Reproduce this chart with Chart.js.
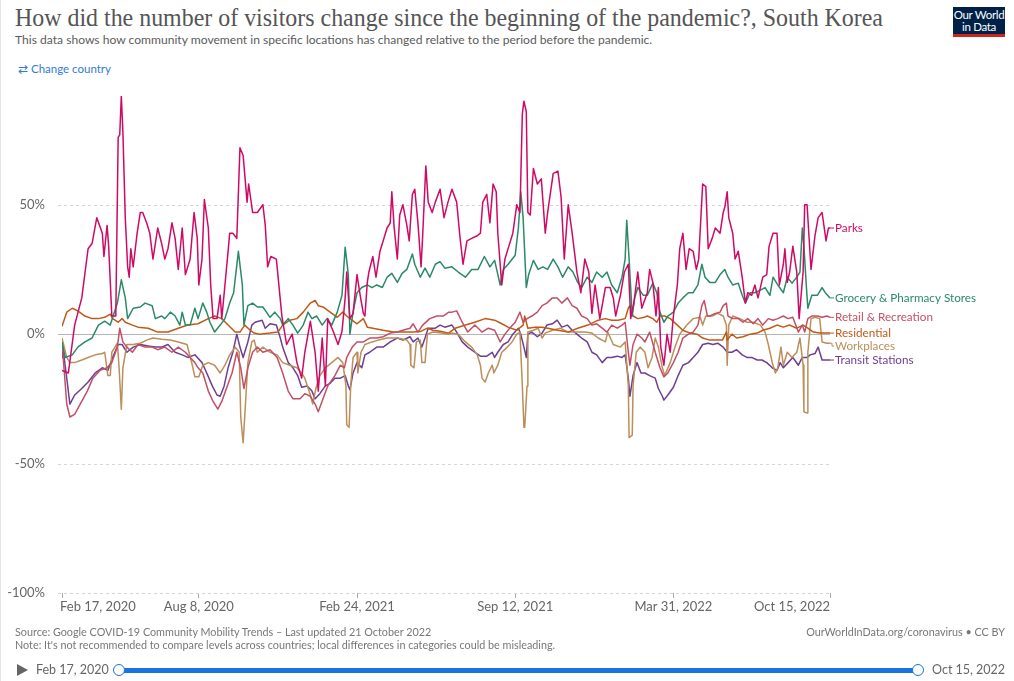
<!DOCTYPE html>
<html>
<head>
<meta charset="utf-8">
<script src="https://cdn.jsdelivr.net/npm/chart.js@4.4.1/dist/chart.umd.min.js"></script>
<style>
  body { margin: 0; width: 1014px; height: 681px; overflow: hidden; background: #fff; font-family: Lato, "Open Sans", sans-serif; position: relative; }
  #edge { position: absolute; left: 0; top: 0; width: 1px; height: 681px; background: #e4e4e4; }
  #title { position: absolute; left: 15px; top: 3px; font-family: "Liberation Serif", serif; font-size: 26px; color: #555; white-space: nowrap; transform-origin: 0 0; }
  #subtitle { position: absolute; left: 15px; top: 32px; font-size: 12.1px; color: #5b5b5b; white-space: nowrap; }
  #change { position: absolute; left: 18px; top: 62px; font-size: 11.5px; color: #2f7bd9; white-space: nowrap; }
  #logo { position: absolute; left: 953px; top: 7px; width: 52px; height: 25px; background: #002147; border-bottom: 3px solid #ce261e; color: #fff; font-size: 11.5px; line-height: 12px; text-align: center; padding-top: 2px; box-sizing: content-box; letter-spacing: -0.3px; }
  #chart { position: absolute; left: 0; top: 0; }
  .foot { position: absolute; font-size: 10.8px; color: #777; white-space: nowrap; }
  #play { position: absolute; left: 17px; top: 664px; width: 0; height: 0; border-top: 6px solid transparent; border-bottom: 6px solid transparent; border-left: 11px solid #666; }
  .tl { position: absolute; top: 662px; font-size: 12.5px; color: #666; white-space: nowrap; }
  #bar { position: absolute; left: 120px; top: 668px; width: 799px; height: 5px; background: #1a73e0; }
  .knob { position: absolute; top: 664px; width: 10px; height: 10px; border: 1.5px solid #1a73e0; border-radius: 50%; background: #fff; }
</style>
</head>
<body>
<div id="edge"></div>
<div id="title">How did the number of visitors change since the beginning of the pandemic?, South Korea</div>
<div id="subtitle">This data shows how community movement in specific locations has changed relative to the period before the pandemic.</div>
<div id="change">&#8644; Change country</div>
<div id="logo">Our World<br>in Data</div>
<canvas id="chart" width="1014" height="681"></canvas>
<div class="foot" style="left:15px; top:625px;">Source: Google COVID-19 Community Mobility Trends – Last updated 21 October 2022</div>
<div class="foot" style="left:15px; top:638px;">Note: It's not recommended to compare levels across countries; local differences in categories could be misleading.</div>
<div class="foot" style="right:9px; top:625px;">OurWorldInData.org/coronavirus • CC BY</div>
<div id="play"></div>
<div class="tl" style="left:36px;">Feb 17, 2020</div>
<div id="bar"></div>
<div class="knob" style="left:113px;"></div>
<div class="knob" style="left:912px;"></div>
<div class="tl" style="left:932px;">Oct 15, 2022</div>

<script>
// x values are days since Feb 17, 2020 (Oct 15, 2022 = day 971)
const tickDays = [0, 173, 373, 573, 773, 971];
const tickLabels = ['Feb 17, 2020', 'Aug 8, 2020', 'Feb 24, 2021', 'Sep 12, 2021', 'Mar 31, 2022', 'Oct 15, 2022'];
const yTicks = [-100, -50, 0, 50];

const seriesNames = ['Parks', 'Grocery & Pharmacy Stores', 'Retail & Recreation', 'Residential', 'Workplaces', 'Transit Stations'];
const seriesColors = ['#cf0a66', '#2a8a66', '#c15065', '#c05917', '#bc8e5a', '#6d3e91'];

const parks = [[0,-14],[8,-15],[16,3.5],[25,14],[33,33],[38,35],[44,45],[51,39],[53,30],[57,42],[59,34],[63,7],[68,7],[71,76],[73,77],[75,92],[77,78],[80,45],[83,26],[85,22],[87,33],[90,26],[95,39],[99,47],[102,47],[107,43],[111,39],[115,29],[121,41],[126,35],[130,29],[134,33],[139,43],[143,37],[147,25],[152,41],[156,23],[162,29],[167,47],[171,37],[173,19],[177,29],[180,52],[185,41],[188,19],[191,6],[196,6],[200,15],[202,6],[206,19],[210,32],[212,39],[216,39],[221,37],[225,72],[229,69],[234,51],[236,58],[241,47],[247,47],[254,50],[257,42],[260,26],[264,30],[271,29],[278,7],[284,-4],[291,0],[297,-11],[303,-17],[307,-7],[314,5],[320,-7],[324,-22],[329,-1.5],[333,-20],[336,6],[343,1],[349,-4],[354,1],[358,14],[360,24],[364,6],[368,8],[373,23],[377,15],[381,8],[383,7],[386,20],[388,24],[393,30],[397,22],[402,32],[406,36],[411,41],[415,43],[417,55],[420,41],[424,29],[427,46],[431,50],[436,42],[439,36],[443,54],[446,56],[450,43],[454,26],[456,38],[460,65],[463,51],[468,47],[472,51],[478,56],[483,45],[488,51],[493,56],[499,51],[503,38],[507,27],[512,36],[518,37],[525,38],[529,39],[532,51],[537,54],[541,43],[545,58],[549,55],[551,39],[556,19],[560,29],[565,34],[570,39],[575,50],[579,47],[582,85],[584,90],[587,86],[589,47],[592,46],[596,64],[601,58],[606,60],[611,39],[614,47],[621,62],[627,63],[631,53],[635,29],[640,50],[645,39],[651,24],[656,16],[661,29],[666,24],[670,8],[674,19],[680,6],[687,18],[693,18],[697,14],[700,7],[706,15],[711,24],[716,27],[719,6],[723,12],[728,24],[733,10],[740,16],[743,25],[747,20],[751,7],[754,18],[757,-5],[761,-12],[765,0],[769,-7],[773,7],[778,19],[781,33],[785,39],[789,25],[793,33],[798,32],[802,25],[805,29],[810,58],[814,57],[817,33],[822,37],[826,41],[832,39],[836,47],[838,49],[841,55],[843,45],[848,39],[851,29],[855,32],[860,22],[864,12],[867,16],[872,15],[876,19],[880,14],[886,22],[891,23],[894,34],[899,39],[904,39],[907,19],[912,27],[914,33],[917,20],[920,24],[924,34],[929,24],[932,6],[937,24],[939,50],[942,50],[947,25],[952,38],[956,45],[961,47],[966,36],[969,41],[971,41]];

const grocery = [[0,-3],[4,-9],[13,-8],[20,-5],[29,-3],[38,-1.5],[46,3.5],[54,5],[61,3.5],[70,12],[75,21],[80,14],[83,6],[90,10],[99,10.5],[105,12],[114,11],[118,6],[126,7],[130,6],[137,8.5],[143,7],[149,3.5],[152,8.5],[156,3.5],[162,3.5],[168,10],[172,6],[178,12],[183,8.5],[187,4.6],[193,0.8],[200,3.5],[206,6],[212,12],[217,16],[223,32],[228,19],[230,3.5],[235,11],[241,12],[247,10.5],[254,10.5],[263,6.5],[269,8.5],[276,6],[279,3.5],[286,6],[292,3.5],[298,0.4],[305,3.5],[311,8.5],[316,6],[322,7],[329,3.5],[335,6],[341,3.5],[348,8.5],[354,15],[358,33.6],[362,23],[364,0],[368,8.5],[373,16],[379,18],[386,19],[392,18],[398,19],[405,18],[411,22],[417,23.5],[424,20],[430,23.5],[436,25],[443,31],[446,27],[453,22],[459,25.5],[465,22],[472,27],[478,28],[484,25.5],[493,26],[501,24],[510,22],[518,25],[526,25],[534,30],[541,26],[547,28.5],[554,19],[558,25],[564,27],[573,30.5],[577,41],[580,55],[583,45],[587,18],[590,23],[596,28.5],[602,25],[608,26],[614,25],[621,29],[627,26],[633,22],[640,26],[646,24],[652,20],[657,18],[664,22],[670,20],[676,24],[683,22],[689,24],[695,19],[702,16],[708,22],[712,29],[714,44],[717,29],[721,7],[724,14],[728,18],[735,15],[740,15],[747,19.7],[752,16],[756,8.5],[761,4.6],[766,7],[773,8.5],[779,12],[785,14],[792,16],[798,16],[804,19],[809,27],[813,22],[819,20],[826,20],[832,23],[838,25],[842,22],[848,19],[855,19.7],[860,15],[864,12],[870,16],[876,16],[883,17],[889,18],[895,15],[899,22],[905,19],[912,16],[917,22],[923,19.7],[929,22],[933,24],[936,41],[938,34],[941,19],[943,10],[948,15],[955,15],[961,18],[965,16],[971,14]];

const retail = [[0,-5],[1,-7],[6,-27],[10,-32],[16,-31],[23,-27],[32,-22],[39,-17],[48,-14],[57,-13],[63,-11],[70,-5],[73,2.3],[77,-3],[82,-5],[89,-7],[96,-4],[105,-5],[114,-5],[121,-6],[130,-5],[139,-7],[147,-5],[156,-7],[162,-9],[168,-11],[172,-13],[178,-15],[185,-22],[191,-26],[197,-29],[202,-26],[209,-20],[215,-15],[221,-7],[226,-13],[230,-21],[235,-13],[241,-7],[247,-5],[254,-7],[263,-6],[272,-9],[279,-15],[286,-22],[292,-25],[301,-25],[307,-23],[314,-24],[320,-27],[324,-30],[330,-25],[336,-20],[345,-16],[352,-12],[357,-13],[360,-9],[367,-5],[373,-3],[381,-3],[389,-1.5],[398,-1.5],[406,-1],[415,0.4],[424,0.8],[431,1.5],[440,2.3],[444,4],[450,0.8],[456,3.5],[465,6],[474,7],[482,7],[489,8.5],[493,8.5],[499,9],[506,4.6],[513,0.8],[522,3.5],[531,0.8],[539,2.3],[547,1.5],[554,-3],[560,0],[566,2.3],[573,4.6],[579,8.5],[583,4.6],[588,6],[594,7],[601,8.5],[607,11],[613,12],[620,14],[626,14],[632,12],[639,14],[645,11],[651,10],[657,7],[664,6],[670,3.5],[676,4],[683,2.3],[689,0.8],[695,3.5],[702,2.3],[708,3.5],[712,4.6],[716,-7],[718,-12],[722,-4],[727,0],[733,-1.5],[737,-3],[743,0.8],[750,-7],[756,-13],[761,-16.5],[766,-15],[773,-11],[779,-7],[785,-1.5],[792,0],[798,0.8],[804,3.5],[809,11],[812,13],[816,7],[819,7],[826,8],[832,8.5],[836,11],[840,12],[842,7],[848,6],[855,6],[861,4.6],[867,6],[874,4],[880,6],[886,3.5],[893,6],[899,5.4],[905,6],[912,7],[918,6],[924,6.5],[931,0.8],[936,3.5],[939,0.8],[943,6],[948,7],[955,7],[961,6.5],[967,7],[971,6.5]];

const residential = [[0,3],[6,8.5],[13,10],[20,9],[29,7],[38,6],[46,6],[54,6.5],[61,7.7],[64,6],[71,4.6],[76,6],[80,4.6],[89,3.5],[96,2.7],[109,2.3],[121,0.8],[134,0.8],[147,2.3],[159,3.5],[172,4],[185,6],[193,7],[202,6],[210,3.5],[219,0.8],[225,0.8],[231,3.5],[238,1.5],[243,0.4],[250,0],[263,0.4],[273,0.8],[279,3.5],[288,5.4],[297,6],[305,8.5],[314,12],[320,13],[324,11],[330,10.5],[339,8.5],[348,6.5],[355,8.5],[360,7],[364,6],[373,4],[381,6],[386,2.7],[393,2.3],[406,1.5],[419,0.8],[431,0.8],[444,0.8],[453,1],[462,2.3],[469,1.5],[480,1],[489,0.4],[497,2.3],[510,3.5],[522,4.6],[535,6],[547,5.4],[556,4],[564,2.7],[575,1.5],[583,3.5],[585,7],[589,2.3],[598,2.7],[607,2.7],[614,2.3],[627,1.5],[640,0.8],[652,2.3],[665,3.5],[678,5.4],[687,6],[695,5.4],[703,5.4],[712,6],[716,10],[718,11],[722,7],[728,6],[736,6.5],[740,7],[747,6],[752,4.6],[756,7],[762,7],[769,6],[778,3.5],[785,1.5],[794,0.4],[803,0],[810,-1.5],[819,-2.3],[828,-2.3],[835,-2.3],[840,0.8],[841,-2.3],[847,0],[853,-1.5],[861,-1],[870,0],[879,0.4],[886,1.5],[895,2.3],[904,3.5],[912,2.7],[920,3.5],[929,2.3],[937,3.5],[943,2.3],[950,0.8],[958,0.4],[971,0.4]];

const workplaces = [[0,-1.5],[1,-1.5],[6,-9],[10,-11],[16,-11],[25,-10],[33,-9],[42,-8],[51,-7.5],[54,-7],[58,-16],[61,-16],[63,-7],[70,-3.5],[72,-12],[75,-29],[77,-13],[82,-4],[90,-4],[99,-3.5],[107,-2.3],[115,-1.5],[126,-2],[137,-2.3],[147,-3],[158,-4],[164,-11],[168,-16.5],[173,-16.5],[178,-12],[185,-11],[193,-12],[200,-15],[206,-12],[212,-8],[219,-5],[224,-7],[226,-32],[229,-42],[231,-32],[235,-11],[240,-3],[243,-2.3],[247,-7],[254,-5],[263,-7],[272,-8],[279,-11],[288,-12],[297,-13],[303,-15],[307,-17],[314,-23.5],[317,-27],[321,-21],[326,-16],[333,-13],[341,-11],[349,-9],[355,-11],[359,-20],[360,-35],[363,-36],[365,-20],[368,-9],[373,-7],[374,-15],[378,-7],[383,-4],[392,-3],[400,-2.3],[411,-1.5],[424,-1.5],[436,-2.3],[440,-4],[441,-12],[445,-13],[448,-3],[453,-2.3],[455,-11],[459,-11],[462,0],[469,0.8],[480,0.4],[489,0],[493,0.4],[501,0],[510,-3],[518,-5],[525,-8],[529,-12],[531,-17],[535,-18.5],[539,-15],[544,-12],[546,-15],[551,-12],[556,-7],[563,-5],[569,-3],[575,0],[579,0.8],[582,-20],[584,-36],[585,-36],[588,-20],[589,0.8],[596,1.5],[602,2.3],[607,-1.5],[611,0.4],[620,1.5],[630,2.3],[640,0.8],[651,0.8],[661,0.8],[670,0.4],[678,-1.5],[687,-3],[690,0.8],[697,-4],[706,-5],[712,-3],[716,-20],[717,-40],[721,-39],[722,-20],[726,-7],[731,-5],[737,-7],[741,-13],[746,-9],[750,-1.5],[754,-5],[759,-13],[762,-16],[769,-11],[775,-5],[781,0],[790,3.5],[798,6],[807,6.5],[810,3.5],[814,7],[822,7],[829,8],[836,7],[840,3.5],[841,-12],[843,3.5],[848,7],[857,6],[866,4.6],[874,4.6],[883,3.5],[889,0.8],[893,-4],[898,-11],[902,-15],[905,-13],[909,-5],[912,-12],[917,-7],[923,-9],[929,-7],[933,-1.5],[937,-12],[938,-30],[942,-30.5],[943,-7],[947,6],[952,6.5],[958,6],[961,-3],[967,-3.5],[971,-3.5]];

const transit = [[0,-9],[1,-5],[6,-17],[10,-27],[16,-23.5],[25,-21],[33,-18.5],[42,-15],[51,-13],[58,-14],[64,-9],[71,-4],[76,-4],[82,-7],[90,-5],[99,-4],[109,-4.6],[118,-5],[126,-5],[134,-4],[143,-7],[152,-8],[159,-9],[168,-8],[177,-11],[183,-15],[190,-20],[196,-23.5],[200,-24],[205,-20],[210,-13],[216,-7],[221,0],[225,-5],[229,-9],[235,-3],[240,3.5],[244,4.6],[253,5.4],[257,2.3],[263,4],[271,3.5],[276,-1.5],[279,-5],[286,-11],[292,-13],[298,-16],[303,-20.5],[310,-20],[316,-22],[320,-25],[326,-23],[333,-20],[339,-19],[345,-17],[352,-17],[358,-16],[362,-20],[364,-21.5],[368,-15],[373,-11],[379,-13],[383,-8],[389,-7],[398,-5],[406,-5],[415,-3],[424,-1.5],[431,-2.3],[440,-1],[444,-3],[450,-1.5],[455,-5],[459,-1.5],[463,2.3],[472,2.3],[478,3.5],[484,2.7],[493,3.5],[499,0.8],[506,-3],[513,-5],[522,-7],[529,-8.5],[537,-8.5],[544,-7],[547,-9],[551,-7],[558,-4],[564,-3],[570,0],[577,2.3],[580,0],[584,-5],[587,-9],[589,0],[594,0.8],[601,-1],[607,0.4],[613,3.5],[620,4],[626,5.4],[632,2.7],[639,3.5],[645,1.5],[651,0],[657,-1.5],[664,-3],[670,-7],[676,-8],[683,-11],[689,-9],[695,-9],[702,-8.5],[708,-9],[712,-8],[716,-17],[718,-24],[722,-16],[727,-11],[732,-15],[737,-15],[743,-16],[750,-17],[754,-21],[759,-24],[761,-25.5],[766,-23.5],[773,-20.5],[779,-16],[785,-12],[792,-11],[798,-9],[804,-7],[810,-4],[817,-3.5],[823,-4],[829,-3.5],[836,-5],[841,-7],[847,-7],[853,-6],[860,-8],[866,-9],[872,-9],[879,-10],[885,-10],[891,-11],[898,-13],[904,-14],[908,-11],[912,-13],[918,-11],[924,-9],[931,-12],[936,-9],[942,-9],[946,-8],[952,-7.5],[956,-5],[961,-10],[971,-10]];

const seriesData = [parks, grocery, retail, residential, workplaces, transit];
const yMax = Math.max(...seriesData.flat().map(p => p[1]));

// fit the serif title to the width it has in the original
const title = document.getElementById('title');
title.style.transform = 'scaleX(' + (868 / title.getBoundingClientRect().width) + ')';

// horizontal grid: dashed, solid at zero
const gridLines = {
    id: 'gridLines',
    beforeDatasetsDraw(chart) {
        const { ctx, scales: { x, y } } = chart;
        ctx.save();
        ctx.lineWidth = 1;
        yTicks.forEach(v => {
            const py = Math.round(y.getPixelForValue(v)) + 0.5;
            ctx.strokeStyle = v === 0 ? '#b5b5b5' : '#d5d5d5';
            ctx.setLineDash(v === 0 ? [] : [3, 3]);
            ctx.beginPath();
            ctx.moveTo(x.left - 4, py);
            ctx.lineTo(x.right, py);
            ctx.stroke();
        });
        ctx.restore();
    }
};

const endLabels = {
    id: 'endLabels',
    afterDatasetsDraw(chart) {
        const { ctx, scales: { x, y } } = chart;
        const items = chart.data.datasets.map(ds => {
            const last = ds.data[ds.data.length - 1];
            const py = y.getPixelForValue(last.y);
            return { label: ds.label, color: ds.borderColor, py, ly: py };
        }).sort((a, b) => a.py - b.py);
        for (let i = 1; i < items.length; i++) {
            items[i].ly = Math.max(items[i].ly, items[i - 1].ly + 13);
        }
        const x0 = x.right;
        ctx.save();
        ctx.font = '11.7px Lato';
        ctx.textBaseline = 'middle';
        ctx.lineWidth = 1;
        items.forEach(it => {
            ctx.strokeStyle = it.color;
            ctx.beginPath();
            ctx.moveTo(x0, it.py);
            ctx.lineTo(x0 + 2, it.py);
            ctx.lineTo(x0 + 2, it.ly);
            ctx.lineTo(x0 + 4, it.ly);
            ctx.stroke();
            ctx.fillStyle = it.color;
            ctx.fillText(it.label, x0 + 5, it.ly);
        });
        ctx.restore();
    }
};

const dateLabels = {
    id: 'dateLabels',
    afterDraw(chart) {
        const { ctx, scales: { x, y } } = chart;
        ctx.save();
        ctx.font = '13px Lato';
        ctx.fillStyle = '#666';
        ctx.textBaseline = 'middle';
        tickDays.forEach((d, i) => {
            const px = x.getPixelForValue(d);
            ctx.textAlign = i === 0 ? 'left' : (i === tickDays.length - 1 ? 'right' : 'center');
            ctx.fillText(tickLabels[i], i === 0 ? px - 2 : px, y.bottom + 14);
        });
        ctx.restore();
    }
};

new Chart(document.getElementById('chart'), {
    type: 'line',
    data: {
        datasets: seriesData.map((s, i) => ({
            label: seriesNames[i],
            data: s.map(p => ({ x: p[0], y: p[1] })),
            borderColor: seriesColors[i],
            borderWidth: 1.5,
            pointRadius: 0,
            tension: 0,
            borderJoinStyle: 'round'
        }))
    },
    options: {
        responsive: false,
        animation: false,
        layout: { padding: { left: 0, right: 184, top: 96, bottom: 64 } },
        plugins: { legend: { display: false }, tooltip: { enabled: false } },
        scales: {
            x: {
                type: 'linear',
                min: 0,
                max: 971,
                afterBuildTicks: s => { s.ticks = tickDays.map(v => ({ value: v })); },
                afterFit: s => { s.height = 24; },
                ticks: { callback: () => '', maxRotation: 0, autoSkip: false },
                grid: { drawOnChartArea: false, drawTicks: true, tickLength: 5, color: '#aaa' },
                border: { display: false }
            },
            y: {
                min: -100,
                max: yMax,
                afterBuildTicks: s => { s.ticks = yTicks.map(v => ({ value: v })); },
                afterFit: s => { s.width = 62; },
                ticks: {
                    callback: v => v + '%',
                    color: '#666',
                    font: { family: 'Lato', size: 13 },
                    padding: 9
                },
                grid: { display: false },
                border: { display: false }
            }
        }
    },
    plugins: [gridLines, endLabels, dateLabels]
});
</script>
</body>
</html>
